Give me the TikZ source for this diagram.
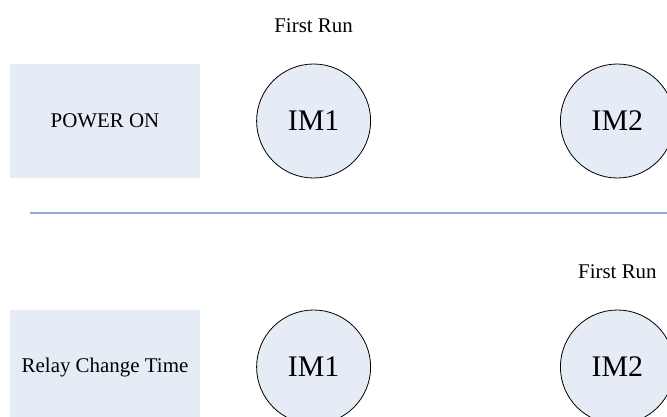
\documentclass[tikz,border=0pt]{standalone}
\usepackage{fontspec}
\setmainfont{Liberation Serif}
\usepackage{xcolor}
\usetikzlibrary{positioning}
\definecolor{panelfill}{RGB}{230,236,246}
\definecolor{divline}{RGB}{143,170,220}

\begin{document}
\begin{tikzpicture}[x=1bp, y=1bp,
  state/.style={fill=panelfill, minimum width=190bp, minimum height=114bp, inner sep=0pt, font=\fontsize{21}{25}\selectfont},
  motor/.style={circle, draw, line width=0.8bp, fill=panelfill, minimum size=114bp, inner sep=0pt, font=\fontsize{30}{36}\selectfont},
  tag/.style={inner sep=0pt, font=\fontsize{21}{25}\selectfont},
]
\clip (0,0) rectangle (667,416);
% power on row
\node[state] (pwr) at (105,295) {POWER ON};
\node[motor, right=56bp of pwr] (im1a) {IM1};
\node[motor, right=189bp of im1a] (im2a) {IM2};
\node[tag, above=31bp of im1a] (runa) {First Run};
% divider
\coordinate (divl) at (30,203);
\coordinate (divr) at (667,203);
\draw[divline, line width=1.5bp] (divl) -- (divr);
% relay change row
\node[state] (relay) at (105,49) {Relay Change Time};
\node[motor, right=56bp of relay] (im1b) {IM1};
\node[motor, right=189bp of im1b] (im2b) {IM2};
\node[tag, above=31bp of im2b] (runb) {First Run};
\end{tikzpicture}
\end{document}
